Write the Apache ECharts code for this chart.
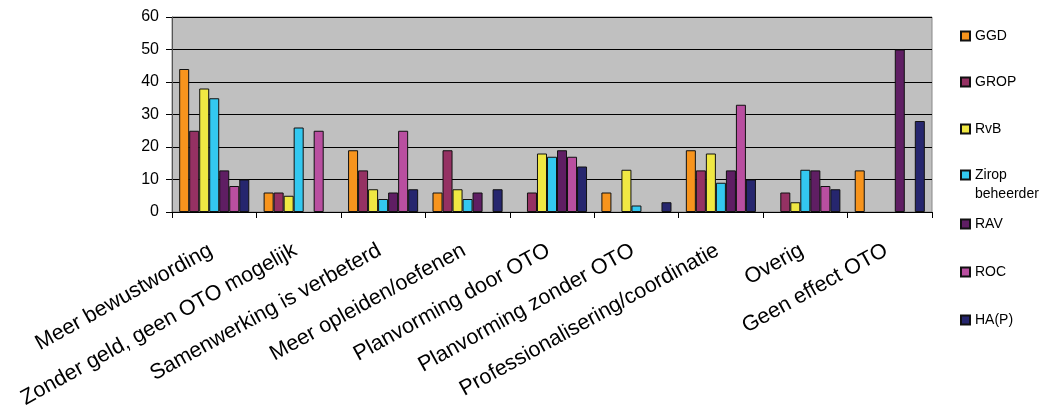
<!DOCTYPE html>
<html>
<head>
<meta charset="utf-8">
<script src="https://cdn.jsdelivr.net/npm/echarts@6/dist/echarts.min.js"></script>
<style>
  html, body { margin: 0; padding: 0; background: #fff; }
  #chart { width: 1047px; height: 410px; }
</style>
</head>
<body>
<div id="chart"></div>
<script>
const categories = [
  "Meer bewustwording",
  "Zonder geld, geen OTO mogelijk",
  "Samenwerking is verbeterd",
  "Meer opleiden/oefenen",
  "Planvorming door OTO",
  "Planvorming zonder OTO",
  "Professionalisering/coordinatie",
  "Overig",
  "Geen effect OTO",
];

const seriesNames = ["GGD", "GROP", "RvB", "Zirop beheerder", "RAV", "ROC", "HA(P)"];
const seriesColors = ["#F7941D", "#953163", "#F0E843", "#33C8F0", "#5F1E63", "#B94FA0", "#26266E"];

// values per series, one per category (null = no bar)
const ggd = [44, 6, 19, 6, null, 6, 19, null, 12.8];
const grop = [25, 6, 12.8, 19, 6, null, 12.8, 6, null];
const rvb = [38, 5, 7, 7, 18, 13, 18, 3, null];
const zirop = [35, 26, 4, 4, 17, 2, 9, 13, null];
const rav = [12.8, null, 6, 6, 19, null, 12.8, 12.8, 50];
const roc = [8, 25, 25, null, 17, null, 33, 8, null];
const hap = [10, null, 7, 7, 14, 3, 10, 7, 28];

const seriesValues = [ggd, grop, rvb, zirop, rav, roc, hap];

// legend icon centres (px from top)
const legendCenters = [36, 82, 129, 175, 224, 272, 320];

const chart = echarts.init(document.getElementById("chart"));

const legends = seriesNames.map((name, i) => {
  const twoLine = name.indexOf(" ") > 0;
  return {
    orient: "vertical",
    left: 960,
    top: legendCenters[i] - (twoLine ? 28.5 : 9.5),
    itemWidth: 9,
    itemHeight: 9,
    padding: 0,
    selectedMode: false,
    icon: "rect",
    data: [name],
    // blank first line keeps "Zirop" level with the icon
    formatter: (n) => (n.indexOf(" ") > 0 ? "\n" + n.replace(" ", "\n") : n),
    textStyle: {
      fontFamily: "Liberation Sans, Arial, sans-serif",
      fontSize: 14,
      color: "#000",
      lineHeight: 19,
    },
  };
});

const option = {
  animation: false,
  backgroundColor: "#fff",
  textStyle: { fontFamily: "Liberation Sans, Arial, sans-serif" },
  grid: {
    left: 172,
    right: 115,
    top: 17,
    bottom: 198,
    outerBoundsMode: "none",
    show: true,
    backgroundColor: "#C0C0C0",
    borderColor: "#888",
    borderWidth: 1,
  },
  legend: legends,
  xAxis: {
    type: "category",
    data: categories,
    axisLine: { lineStyle: { color: "#000", width: 1 } },
    axisTick: { show: true, length: 6, lineStyle: { color: "#000" } },
    axisLabel: {
      interval: 0,
      rotate: 29,
      fontSize: 21.5,
      color: "#000",
      margin: 35,
      padding: [0, 4, 0, 0],
      fontFamily: "Liberation Sans, Arial, sans-serif",
    },
  },
  yAxis: {
    type: "value",
    min: 0,
    max: 60,
    interval: 10,
    axisLine: { show: true, lineStyle: { color: "#555", width: 1 } },
    axisTick: { show: true, length: 6, lineStyle: { color: "#000" } },
    splitLine: { lineStyle: { color: "#000", width: 1 } },
    axisLabel: {
      fontSize: 16,
      color: "#000",
      margin: 13,
      fontFamily: "Liberation Sans, Arial, sans-serif",
    },
  },
  series: seriesNames.map((name, i) => ({
    name: name,
    type: "bar",
    data: seriesValues[i],
    barGap: "0%",
    barCategoryGap: "17%",
    itemStyle: {
      color: seriesColors[i],
      borderColor: "#111",
      borderWidth: 1,
    },
  })),
};

chart.setOption(option);
</script>
</body>
</html>
